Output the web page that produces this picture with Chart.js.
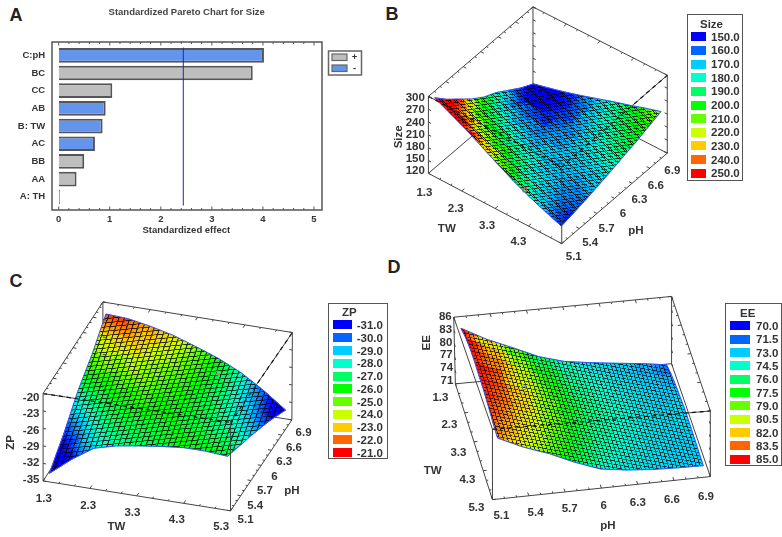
<!DOCTYPE html>
<html>
<head>
<meta charset="utf-8">
<title>Pareto and response surfaces</title>
<script src="https://cdn.jsdelivr.net/npm/chart.js@4"></script>
<style>
    html, body { margin: 0; background: #fff; width: 782px; height: 537px; overflow: hidden; }
    body { position: relative; font-family: "Liberation Sans", Arial, sans-serif; color: #333; }
    canvas { position: absolute; filter: blur(0.35px); }
    .letter { position: absolute; font-size: 18px; font-weight: bold; color: #222; transform: translate(-50%, -50%); }
    .lg { position: absolute; border: 1px solid #555; background: #fff; box-sizing: border-box; filter: blur(0.3px); }
    .lgItem { position: absolute; font-weight: bold; font-size: 11.5px; line-height: 12px; white-space: nowrap; }
    .sw { position: absolute; }
</style>
</head>
<body>
<script>
// pareto
const paretoLabels = ["C:pH", "BC", "CC", "AB", "B: TW", "AC", "BB", "AA", "A: TH"];
const paretoEffects = [4.02, 3.80, 1.05, 0.92, 0.86, 0.71, 0.50, 0.35, 0.02];
const paretoSigns = ["-", "+", "+", "-", "-", "-", "+", "+", "-"];
const paretoXTicks = [0, 1, 2, 3, 4, 5];
const paretoLimit = 2.44;

// axes of the surfaces
const twTicks = [1.3, 2.3, 3.3, 4.3, 5.3];
const phTicks = [5.1, 5.4, 5.7, 6, 6.3, 6.6, 6.9];
const sizeTicks = [120, 150, 180, 210, 240, 270, 300];
const zpTicks = [-35, -32, -29, -26, -23, -20];
const eeTicks = [71, 74, 77, 80, 83, 86];

// color scale of the legends
const sizeLevels = [150, 160, 170, 180, 190, 200, 210, 220, 230, 240, 250];
const zpLevels = [-31, -30, -29, -28, -27, -26, -25, -24, -23, -22, -21];
const eeLevels = [70, 71.5, 73, 74.5, 76, 77.5, 79, 80.5, 82, 83.5, 85];
const levelColors = ["#0000ff", "#0066ff", "#00ccff", "#00ffcc", "#00ff66", "#00ff00", "#66ff00", "#ccff00", "#ffcc00", "#ff6600", "#ff0000"];

// surface values, rows = TW, columns = pH
const twGrid = [1.4, 1.875, 2.35, 2.825, 3.3, 3.775, 4.25, 4.725, 5.2];
const phGrid = [5.15, 5.36, 5.58, 5.79, 6, 6.21, 6.43, 6.64, 6.85];
const sizeValues = [
    [295, 267, 242, 218, 198, 184, 164, 145, 130],
    [277, 246, 220, 198, 182, 168, 154, 144, 139],
    [259, 228, 204, 186, 172, 162, 154, 148, 149],
    [238, 212, 191, 177, 168, 162, 158, 157, 160],
    [217, 197, 183, 174, 169, 166, 165, 167, 172],
    [197, 181, 172, 169, 169, 170, 173, 178, 184],
    [180, 172, 169, 170, 172, 176, 181, 187, 195],
    [165, 163, 165, 169, 175, 183, 190, 198, 207],
    [151, 157, 164, 172, 180, 189, 198, 208, 218]
];
const zpValues = [
    [-34, -32.5, -31, -29.2, -27.4, -26.1, -24.8, -23.1, -21.5],
    [-31, -29.8, -28.7, -27.5, -26.4, -25.2, -24, -22.9, -21.7],
    [-28.5, -27.7, -27, -26.2, -25.5, -24.7, -23.9, -23.2, -22.4],
    [-27.5, -27, -26.4, -25.9, -25.4, -24.9, -24.4, -23.8, -23.3],
    [-26.9, -26.6, -26.3, -26, -25.8, -25.5, -25.2, -24.9, -24.6],
    [-26.4, -26.3, -26.3, -26.3, -26.2, -26.2, -26.1, -26.1, -26],
    [-26, -26.2, -26.5, -26.7, -26.9, -27.1, -27.4, -27.6, -27.8],
    [-26, -26.5, -27, -27.6, -28.1, -28.6, -29.2, -29.7, -30.2],
    [-26.3, -27, -27.8, -28.5, -29.3, -30.1, -31, -32, -33]
];
const eeValues = [
    [84, 81, 78.5, 76, 74.4, 73.6, 72.9, 72.3, 71.5],
    [85, 82.2, 79.5, 76.8, 75, 74, 73.4, 72.8, 72.4],
    [85.5, 83, 80.2, 77.6, 75.4, 74.4, 73.6, 73.1, 72.9],
    [85.5, 83.2, 80.5, 77.9, 75.7, 74.6, 73.8, 73.2, 73.2],
    [85.2, 83.2, 80.7, 78.1, 75.9, 74.8, 73.9, 73.4, 73.5],
    [85, 83, 80.6, 78, 75.8, 74.7, 73.9, 73.4, 73.4],
    [84.5, 82.4, 80.2, 77.8, 75.5, 74.5, 73.8, 73.3, 73.3],
    [83.8, 81.7, 79.6, 77.3, 75.1, 74.2, 73.6, 73.2, 73.1],
    [83.4, 81, 79, 76.6, 74.6, 73.8, 73.3, 73.1, 73]
];
// the small design point marker on each surface: TW, pH, value
const sizeMarker = [4.1, 5.15, 190];
const zpMarker = [3.98, 6.54, -25.6];
const eeMarker = [2.9, 5.55, 79.2];

const TEXT = "#333";
const BOX = "#444";
const FONT = "Liberation Sans";

function addCanvas(left, top, w, h) {
    let c = document.createElement("canvas");
    c.width = w; c.height = h;
    c.style.left = left + "px";
    c.style.top = top + "px";
    c.style.width = w + "px";
    c.style.height = h + "px";
    document.body.appendChild(c);
    return c;
}

function addLetter(txt, x, y) {
    let d = document.createElement("div");
    d.className = "letter";
    d.textContent = txt;
    d.style.left = x + "px";
    d.style.top = y + "px";
    document.body.appendChild(d);
}

function addLegend(title, levels, g) {
    let box = document.createElement("div");
    box.className = "lg";
    box.style.cssText = `left:${g.x0}px;top:${g.y0}px;width:${g.x1 - g.x0}px;height:${g.y1 - g.y0}px`;
    document.body.appendChild(box);
    let put = (cls, txt, x, y) => {
        let d = document.createElement("div");
        d.className = cls;
        d.textContent = txt;
        d.style.left = (x - g.x0) + "px";
        d.style.top = (y - g.y0 - 6) + "px";
        box.appendChild(d);
        return d;
    };
    put("lgItem", title, g.titleX, g.titleY);
    levels.forEach((lv, i) => {
        let y = g.first + i * g.step;
        let s = put("sw", "", g.swX, y);
        s.style.top = (y - g.y0 - 4.5) + "px";
        s.style.width = g.swW + "px";
        s.style.height = "9px";
        s.style.background = levelColors[i];
        put("lgItem", lv.toFixed(1), g.textX, y);
    });
}

function hexRgb(h) {
    return [parseInt(h.substr(1, 2), 16), parseInt(h.substr(3, 2), 16), parseInt(h.substr(5, 2), 16)];
}

function valueColor(val, levels) {
    let n = levels.length - 1;
    let t = (val - levels[0]) / (levels[n] - levels[0]) * n;
    t = Math.max(0, Math.min(n, t));
    let i = Math.min(n - 1, Math.floor(t));
    let a = hexRgb(levelColors[i]), b = hexRgb(levelColors[i + 1]), f = t - i;
    return `rgb(${a.map((c, k) => Math.round(c + (b[k] - c) * f)).join(",")})`;
}

function lerp(a, b, t) { return a + (b - a) * t; }

// box corners on the page: base 00,10,11,01 then the same four on top (TW first, pH second)
function project(p, tw, ph, val) {
    let u = (tw - twTicks[0]) / (twTicks[twTicks.length - 1] - twTicks[0]);
    let v = (ph - phTicks[0]) / (phTicks[phTicks.length - 1] - phTicks[0]);
    let w = (val - p.zTicks[0]) / (p.zTicks[p.zTicks.length - 1] - p.zTicks[0]);
    let q = (c) => {
        let xa = lerp(c[0][0], c[1][0], u), ya = lerp(c[0][1], c[1][1], u);
        let xb = lerp(c[3][0], c[2][0], u), yb = lerp(c[3][1], c[2][1], u);
        return [lerp(xa, xb, v), lerp(ya, yb, v)];
    };
    let b = q(p.base), t = q(p.top);
    return { x: lerp(b[0], t[0], w), y: lerp(b[1], t[1], w) };
}

function cornerPoint(p, i) {
    return i < 4 ? { x: p.base[i][0], y: p.base[i][1] } : { x: p.top[i - 4][0], y: p.top[i - 4][1] };
}

function lineSet(points, color, width, order, dash) {
    return {
        data: points, showLine: true, pointRadius: 0, borderColor: color, borderWidth: width,
        borderDash: dash || [], fill: false, order: order, tension: 0
    };
}

function meshPattern(ctx, p) {
    let m = p.values, last = m.length - 1;
    let c00 = project(p, twGrid[0], phGrid[0], m[0][0]);
    let c10 = project(p, twGrid[last], phGrid[0], m[last][0]);
    let c01 = project(p, twGrid[0], phGrid[last], m[0][last]);
    let tile = document.createElement("canvas");
    tile.width = 16; tile.height = 16;
    let t = tile.getContext("2d");
    t.fillStyle = `rgba(0,0,0,${p.meshAlpha})`;
    t.fillRect(0, 0, 16, p.meshWide);
    t.fillRect(0, p.meshWide, p.meshWide, 16 - p.meshWide);
    let pat = ctx.createPattern(tile, "repeat");
    let ax = (c10.x - c00.x) / p.meshU / 16, ay = (c10.y - c00.y) / p.meshU / 16;
    let bx = (c01.x - c00.x) / p.meshV / 16, by = (c01.y - c00.y) / p.meshV / 16;
    pat.setTransform(new DOMMatrix([ax, ay, bx, by, c00.x - p.left, c00.y - p.top2]));
    return pat;
}

function surfaceDatasets(p, ctx) {
    let sets = [];
    // box edges: the ones behind the surface go below it
    let edges = [[0, 1], [1, 2], [2, 3], [3, 0], [4, 5], [5, 6], [6, 7], [7, 4], [0, 4], [1, 5], [2, 6], [3, 7]];
    edges.forEach((e, i) => {
        let pts = [cornerPoint(p, e[0]), cornerPoint(p, e[1])];
        sets.push(lineSet(pts, BOX, 1, p.hiddenEdges.includes(i) ? 40 : 10));
        if (p.dashEdges.includes(i)) sets.push(lineSet(pts, "#111", 1.2, 5, [4, 4]));
    });
    let m = p.values;
    for (let i = 0; i < m.length - 1; i++) {
        for (let j = 0; j < m[i].length - 1; j++) {
            let idx = [[i, j], [i + 1, j], [i + 1, j + 1], [i, j + 1]];
            let pts = idx.map(k => project(p, twGrid[k[0]], phGrid[k[1]], m[k[0]][k[1]]));
            let vals = idx.map(k => m[k[0]][k[1]]);
            let lo = vals.indexOf(Math.min(...vals)), hi = vals.indexOf(Math.max(...vals));
            let grad = ctx.createLinearGradient(pts[lo].x - p.left, pts[lo].y - p.top2, pts[hi].x - p.left, pts[hi].y - p.top2);
            for (let s = 0; s <= 6; s++) {
                grad.addColorStop(s / 6, valueColor(lerp(vals[lo], vals[hi], s / 6), p.levels));
            }
            sets.push({
                data: pts.concat([pts[0]]), showLine: true, pointRadius: 0, tension: 0,
                borderColor: grad, borderWidth: 0.7, backgroundColor: grad, fill: "shape", order: 30
            });
        }
    }
    // mesh and blue rim over the whole sheet
    let n = m.length - 1, rim = [];
    for (let j = 0; j <= n; j++) rim.push(project(p, twGrid[0], phGrid[j], m[0][j]));
    for (let i = 1; i <= n; i++) rim.push(project(p, twGrid[i], phGrid[n], m[i][n]));
    for (let j = n - 1; j >= 0; j--) rim.push(project(p, twGrid[n], phGrid[j], m[n][j]));
    for (let i = n - 1; i >= 0; i--) rim.push(project(p, twGrid[i], phGrid[0], m[i][0]));
    sets.push({
        data: rim, showLine: true, pointRadius: 0, tension: 0, borderColor: "#3a50f5", borderWidth: 1,
        backgroundColor: meshPattern(ctx, p), fill: "shape", order: 20
    });
    sets.push({
        data: [project(p, p.marker[0], p.marker[1], p.marker[2])], pointStyle: "rect", pointRadius: 2.5,
        backgroundColor: "rgba(0,0,0,0)", borderColor: p.markerColor, borderWidth: 1, order: 1
    });
    return sets;
}

const surfaceText = {
    id: "surfaceText",
    afterDatasetsDraw(chart, args, opts) {
        let p = opts.panel, c = chart.ctx;
        let px = (pt) => ({ x: chart.scales.x.getPixelForValue(pt.x), y: chart.scales.y.getPixelForValue(pt.y) });
        let zLo = p.zTicks[0], zHi = p.zTicks[p.zTicks.length - 1];
        let phLo = phTicks[0], phHi = phTicks[phTicks.length - 1];
        let twLo = twTicks[0], twHi = twTicks[twTicks.length - 1];
        c.save();
        // small ticks on the box edges
        c.strokeStyle = BOX;
        c.lineWidth = 1;
        let tick = (a, b, len) => {
            let pa = px(a), pb = px(b);
            let d = Math.hypot(pb.x - pa.x, pb.y - pa.y) || 1;
            c.beginPath();
            c.moveTo(pa.x, pa.y);
            c.lineTo(pa.x + (pb.x - pa.x) / d * len, pa.y + (pb.y - pa.y) / d * len);
            c.stroke();
        };
        // thirds between the labelled ticks get a shorter mark
        for (let k = 0; k <= (twTicks.length - 1) * 3; k++) {
            let t = lerp(twLo, twHi, k / ((twTicks.length - 1) * 3)), len = k % 3 == 0 ? 3.5 : 2;
            tick(project(p, t, phLo, zLo), project(p, t, phHi, zLo), len);
            tick(project(p, t, phHi, zHi), project(p, t, phLo, zHi), len);
        }
        for (let k = 0; k <= (phTicks.length - 1) * 3; k++) {
            let t = lerp(phLo, phHi, k / ((phTicks.length - 1) * 3)), len = k % 3 == 0 ? 3.5 : 2;
            tick(project(p, twHi, t, zLo), project(p, twLo, t, zLo), len);
            tick(project(p, twLo, t, zHi), project(p, twHi, t, zHi), len);
        }
        p.zTicks.forEach(t => {
            tick(project(p, twLo, phLo, t), project(p, twHi, phLo, t), 3);
            tick(project(p, twLo, phHi, t), project(p, twHi, phHi, t), 3);
            tick(project(p, twHi, phHi, t), project(p, twLo, phHi, t), 3);
        });
        // tick labels
        c.fillStyle = TEXT;
        c.font = `bold 11.5px "${FONT}"`;
        c.textBaseline = "middle";
        c.textAlign = "center";
        twTicks.forEach((t, i) => {
            if (p.skipTw === t) return;
            let a = px(project(p, t, phLo, zLo)), f = i / (twTicks.length - 1), o = p.twOffset;
            c.fillText(String(t), a.x + lerp(o[0], o[2], f), a.y + lerp(o[1], o[3], f));
        });
        phTicks.forEach((t, i) => {
            let a = px(project(p, twHi, t, zLo)), f = i / (phTicks.length - 1), o = p.phOffset;
            c.fillText(String(t), a.x + lerp(o[0], o[2], f), a.y + lerp(o[1], o[3], f));
        });
        c.textAlign = "right";
        p.zTicks.forEach((t, i) => {
            let a = px(project(p, twLo, phLo, t)), f = i / (p.zTicks.length - 1), o = p.zOffset;
            c.fillText(String(t), a.x + o[0], a.y + lerp(o[1], o[2], f));
        });
        // axis titles
        c.textAlign = "center";
        let title = (txt, x, y, rot) => {
            let a = px({ x: x, y: y });
            c.save();
            c.translate(a.x, a.y);
            if (rot) c.rotate(-Math.PI / 2);
            c.fillText(txt, 0, 0);
            c.restore();
        };
        title("TW", p.twTitle[0], p.twTitle[1]);
        title("pH", p.phTitle[0], p.phTitle[1]);
        title(p.name, p.zTitle[0], p.zTitle[1], true);
        c.restore();
    }
};

function drawSurface(p) {
    let w = p.right - p.left, h = p.bottom - p.top2;
    let cv = addCanvas(p.left, p.top2, w, h);
    let ctx = cv.getContext("2d");
    new Chart(ctx, {
        type: "scatter",
        data: { datasets: surfaceDatasets(p, ctx) },
        options: {
            responsive: false,
            animation: false,
            events: [],
            layout: { padding: 0 },
            scales: {
                x: { type: "linear", display: false, min: p.left, max: p.right },
                y: { type: "linear", display: false, min: p.top2, max: p.bottom, reverse: true }
            },
            plugins: { legend: { display: false }, tooltip: { enabled: false }, surfaceText: { panel: p } }
        },
        plugins: [surfaceText]
    });
}

// panel A
const paretoFrame = {
    id: "paretoFrame",
    afterDraw(chart) {
        let c = chart.ctx, xs = chart.scales.x;
        let L = 52, R = 322, T = 42, B = 210;
        c.save();
        c.strokeStyle = "#555";
        c.lineWidth = 1.5;
        c.strokeRect(L, T, R - L, B - T);
        c.lineWidth = 1;
        for (let k = 0; k <= 25; k++) {
            let x = xs.getPixelForValue(k * 0.2), len = k % 5 == 0 ? 3.5 : 2;
            c.beginPath();
            c.moveTo(x, T); c.lineTo(x, T + len);
            c.moveTo(x, B); c.lineTo(x, B - len);
            c.stroke();
        }
        let lx = xs.getPixelForValue(paretoLimit);
        c.strokeStyle = "#2020cc";
        c.beginPath();
        c.moveTo(lx, 47.5); c.lineTo(lx, 205.5);
        c.stroke();
        // chart title, centred on the frame
        c.fillStyle = "#444";
        c.font = `bold 9.5px "${FONT}"`;
        c.textAlign = "center";
        c.textBaseline = "middle";
        c.fillText("Standardized Pareto Chart for Size", 186.7, 12.3);
        // +/- key
        c.strokeStyle = "#666";
        c.lineWidth = 1.5;
        c.strokeRect(328.5, 51, 33, 24);
        c.lineWidth = 1.2;
        c.fillStyle = "#bebebe"; c.fillRect(332, 54, 15, 6.5); c.strokeRect(332, 54, 15, 6.5);
        c.fillStyle = "#6495ed"; c.fillRect(332, 65, 15, 6.5); c.strokeRect(332, 65, 15, 6.5);
        c.fillStyle = TEXT;
        c.fillText("+", 354.5, 57.5);
        c.fillText("-", 354.5, 68.5);
        c.restore();
    }
};

addLetter("A", 16, 15);
addLetter("B", 392, 14);
addLetter("C", 16, 281);
addLetter("D", 394, 267);

new Chart(addCanvas(0, 0, 373, 240).getContext("2d"), {
    type: "bar",
    data: {
        labels: paretoLabels,
        datasets: [{
            data: paretoEffects,
            backgroundColor: paretoSigns.map(s => s == "+" ? "#bebebe" : "#6495ed"),
            borderColor: paretoEffects.map(v => v < 0.1 ? "#111" : "#555"),
            borderWidth: 2,
            barPercentage: 0.83,
            categoryPercentage: 1
        }]
    },
    options: {
        indexAxis: "y",
        responsive: false,
        animation: false,
        events: [],
        layout: { padding: { top: 46.5, right: 59, left: 0, bottom: 0 } },
        scales: {
            x: {
                min: 0, max: 5,
                afterBuildTicks: (s) => { s.ticks = paretoXTicks.map(v => ({ value: v })); },
                grid: { display: false, drawTicks: false },
                border: { display: false },
                ticks: { padding: 8, color: TEXT, font: { family: FONT, size: 9.5, weight: "bold" } },
                title: { display: true, text: "Standardized effect", color: TEXT, padding: { top: 0, bottom: 4 }, font: { family: FONT, size: 9.5, weight: "bold" } },
                afterFit: (s) => { s.height = 34.4; }
            },
            y: {
                grid: { display: false, drawTicks: false },
                border: { display: false },
                ticks: { padding: 13.5, color: TEXT, font: { family: FONT, size: 9.5, weight: "bold" } },
                afterFit: (s) => { s.width = 58.7; }
            }
        },
        plugins: { legend: { display: false }, tooltip: { enabled: false } }
    },
    plugins: [paretoFrame]
});

drawSurface({
    name: "Size", values: sizeValues, zTicks: sizeTicks, levels: sizeLevels, marker: sizeMarker, markerColor: "#d05060",
    left: 375, right: 690, top2: 0, bottom: 264,
    base: [[425, 175], [562.7, 248], [671.7, 154], [533, 82]],
    top: [[425, 95], [562.7, 168], [671.7, 73], [533, 2]],
    hiddenEdges: [2, 3, 4, 5], dashEdges: [4, 5],
    skipTw: 5.3,
    twOffset: [-4, 19, -12, 15], phOffset: [12, 13.7, 5, 18], zOffset: [-3.5, -2.3, 1.7],
    twTitle: [444, 232.7], phTitle: [639.3, 235], zTitle: [394, 137],
    meshU: 50, meshV: 50, meshAlpha: 0.8, meshWide: 4
});

drawSurface({
    name: "ZP", values: zpValues, zTicks: zpTicks, levels: zpLevels, marker: zpMarker, markerColor: "#d080c0",
    left: 0, right: 325, top2: 262, bottom: 537,
    base: [[39.3, 484], [232.7, 515], [296, 420.7], [101, 389]],
    top: [[39.3, 393.3], [232.7, 423.3], [296.5, 330], [101, 298.3]],
    hiddenEdges: [2, 3, 4, 5, 11], dashEdges: [4, 5],
    twOffset: [0.7, 17.7, -9.4, 15.7], phOffset: [15, 9.3, 11.7, 13], zOffset: [-3.6, -1.3, 4],
    twTitle: [115, 531.5], phTitle: [296, 494], zTitle: [6, 444],
    meshU: 32, meshV: 38, meshAlpha: 0.8, meshWide: 3.5
});

drawSurface({
    name: "EE", values: eeValues, zTicks: eeTicks, levels: eeLevels, marker: eeMarker, markerColor: "#8090c0",
    left: 410, right: 725, top2: 285, bottom: 537,
    base: [[451.7, 382.7], [490, 503.3], [715, 479.3], [675, 361.7]],
    top: [[450, 313.3], [490, 430], [715, 411], [675, 291.7]],
    hiddenEdges: [2, 3, 5], dashEdges: [5],
    twOffset: [-15, 14, -16, 7.7], phOffset: [9, 16, -4.3, 20], zOffset: [-2, -2.7, -0.6],
    twTitle: [428.3, 473.3], phTitle: [609.3, 530.5], zTitle: [421.7, 340],
    meshU: 32, meshV: 50, meshAlpha: 0.8, meshWide: 3.5
});

addLegend("Size", sizeLevels, { x0: 686.7, x1: 743.5, y0: 14, y1: 181, titleX: 699, titleY: 23, first: 35.7, step: 13.66, swX: 690, swW: 15.5, textX: 710 });
addLegend("ZP", zpLevels, { x0: 327.7, x1: 387.7, y0: 302.7, y1: 459.3, titleX: 341, titleY: 311, first: 324, step: 12.77, swX: 331.7, swW: 19, textX: 355.7 });
addLegend("EE", eeLevels, { x0: 725, x1: 781.7, y0: 302.7, y1: 466, titleX: 739, titleY: 312, first: 325, step: 13.33, swX: 729.3, swW: 20, textX: 755 });
</script>
</body>
</html>
